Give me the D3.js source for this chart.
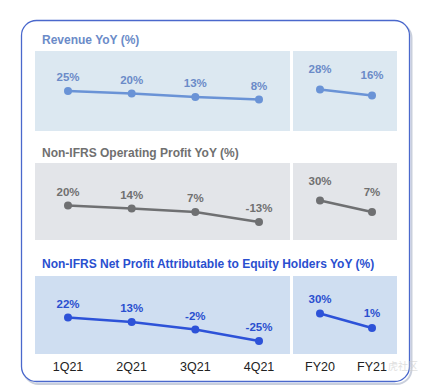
<!DOCTYPE html>
<html>
<head>
<meta charset="utf-8">
<script src="https://cdn.jsdelivr.net/npm/d3@7"></script>
<style>
body{margin:0;background:#fff;font-family:"Liberation Sans",Arial,sans-serif}
</style>
</head>
<body>
<div id="chart"></div>
<script>
var quarters = ["1Q21","2Q21","3Q21","4Q21"]
var years = ["FY20","FY21"]
var titles = ["Revenue YoY (%)","Non-IFRS Operating Profit YoY (%)","Non-IFRS Net Profit Attributable to Equity Holders YoY (%)"]
var revenueQ = [25,20,13,8]
var revenueY = [28,16]
var opProfitQ = [20,14,7,-13]
var opProfitY = [30,7]
var netProfitQ = [22,13,-2,-25]
var netProfitY = [30,1]

var w = 426
var h = 390

var panels = [
	{title:titles[0],q:revenueQ,y:revenueY,top:51,bottom:131,titleY:44,bg:"#dce8f1",line:"#6a93d6",text:"#6b8bc8",fyOff:17},
	{title:titles[1],q:opProfitQ,y:opProfitY,top:163,bottom:240,titleY:157,bg:"#e3e5e9",line:"#6f7072",text:"#707070",fyOff:16},
	{title:titles[2],q:netProfitQ,y:netProfitY,top:276,bottom:354,titleY:268,bg:"#cfdef1",line:"#2d52d8",text:"#2a4fcf",fyOff:11}
]

var svg = d3.select("#chart").append("svg").attr("width",w).attr("height",h)

// outer frame
svg.append("rect").attr("x",22.5).attr("y",21.5).attr("width",388).attr("height",361).attr("rx",15)
	.attr("fill","none").attr("stroke","#c9cfdc").attr("stroke-width",2).attr("transform","translate(1,1.5)")
svg.append("rect").attr("x",21.5).attr("y",20.5).attr("width",388).attr("height",361).attr("rx",15)
	.attr("fill","#fff").attr("stroke","#4a68cc").attr("stroke-width",1.3)

var xQ = d3.scalePoint().domain(quarters).range([68,259])
var xY = d3.scalePoint().domain(years).range([320,372])

panels.forEach(function(p){
	var g = svg.append("g")
	g.append("text").text(p.title).attr("x",42).attr("y",p.titleY)
		.attr("fill",p.text).style("font-weight",700).style("font-size","12px")
	g.append("rect").attr("x",35).attr("y",p.top).attr("width",255).attr("height",p.bottom-p.top).attr("fill",p.bg)
	g.append("rect").attr("x",293).attr("y",p.top).attr("width",104).attr("height",p.bottom-p.top).attr("fill",p.bg)

	var y = d3.scaleLinear().domain([-50,105]).range([p.top+77.5,p.top])
	var line = d3.line().x(function(d){return d[0]}).y(function(d){return y(d[1])})

	var qPts = p.q.map(function(v,i){return [xQ(quarters[i]),v,10]})
	var yPts = p.y.map(function(v,i){return [xY(years[i]),v,p.fyOff]})

	;[qPts,yPts].forEach(function(pts){
		g.append("path").attr("d",line(pts)).attr("fill","none").attr("stroke",p.line).attr("stroke-width",2.5)
		g.selectAll(null).data(pts).enter().append("circle")
			.attr("cx",function(d){return d[0]}).attr("cy",function(d){return y(d[1])}).attr("r",4).attr("fill",p.line)
		g.selectAll(null).data(pts).enter().append("text")
			.text(function(d){return d[1]+"%"})
			.attr("x",function(d){return d[0]}).attr("y",function(d){return y(d[1])-d[2]})
			.attr("text-anchor","middle").attr("fill",p.text)
			.style("font-weight",700).style("font-size","11.5px")
	})
})

svg.selectAll(".xq").data(quarters).enter().append("text")
	.text(function(d){return d}).attr("x",function(d){return xQ(d)}).attr("y",371)
	.attr("text-anchor","middle").attr("fill","#222").style("font-size","12.5px")
svg.selectAll(".xy").data(years).enter().append("text")
	.text(function(d){return d}).attr("x",function(d){return xY(d)}).attr("y",371)
	.attr("text-anchor","middle").attr("fill","#222").style("font-size","12.5px")

// faint watermark
svg.append("text").text("虎社区").attr("x",418).attr("y",370).attr("text-anchor","end")
	.attr("fill","#ccc").attr("opacity",0.6).style("font-size","10px").style("font-family","Noto Sans CJK SC")
</script>
</body>
</html>
